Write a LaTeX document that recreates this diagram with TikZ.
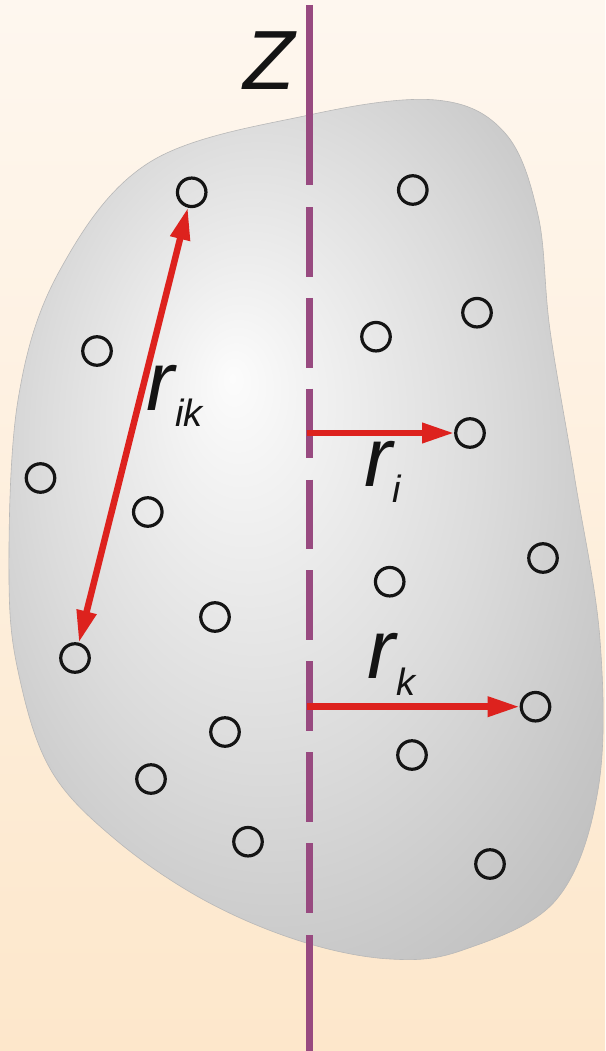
\documentclass[tikz,border=0pt]{standalone}
\usepackage{fontspec}
\setmainfont{Liberation Sans}
\usetikzlibrary{arrows.meta}
\definecolor{axiscol}{HTML}{984A80}
\definecolor{arrcol}{HTML}{DD221E}
\definecolor{bgtop}{HTML}{FEF7EF}
\definecolor{bgbot}{HTML}{FDE7CB}
\definecolor{gA}{HTML}{FCFCFC}
\definecolor{gB}{HTML}{F3F3F3}
\definecolor{gC}{HTML}{DBDBDB}
\definecolor{gD}{HTML}{C6C6C6}
\definecolor{gE}{HTML}{ACACAC}
\pgfdeclareradialshading{blobshade}{\pgfpoint{-6.3bp}{8.75bp}}{color(0bp)=(gA); color(5bp)=(gB); color(19bp)=(gC); color(30bp)=(gD); color(45bp)=(gE)}
\tikzset{
  particle/.style={circle, draw=black!92, line width=3.2pt, minimum size=28.5pt, inner sep=0pt},
  axisline/.style={draw=axiscol, line width=7pt},
  vecarrow/.style={draw=arrcol, line width=6.5pt},
  bigtip/.tip={Triangle[length=32pt, width=19pt]},
  bigfont/.style={inner sep=0pt, anchor=base, text=black!92, font=\fontsize{84}{84}\selectfont\itshape},
  subfont/.style={inner sep=0pt, anchor=base, text=black!92, font=\fontsize{38}{38}\selectfont\itshape}
}
\begin{document}
\begin{tikzpicture}[x=1pt, y=-1pt]
\useasboundingbox (0,0) rectangle (605,1051);
\shade[top color=bgtop, bottom color=bgbot] (0,0) rectangle (605,1051);
% body
\shade[shading=blobshade, draw=black!28, line width=0.6pt] plot[smooth cycle, tension=0.6] coordinates {
 (309,115) (436,100) (505,133) (538,215) (550,330) (575,480) (600,640) (598,790)
 (556,900) (463,950) (390,959) (300,941) (204,900) (116,840) (52,772) (20,680)
 (9,580) (18,400) (60,270) (150,162)};
% axis
\coordinate (ztop) at (309.5,5);
\coordinate (zs1) at (309.5,185);
\coordinate (zd0) at (309.5,207);
\coordinate (zd1) at (309.5,913);
\coordinate (zb0) at (309.5,935);
\coordinate (zbot) at (309.5,1051);
\draw[axisline] (ztop) -- (zs1);
\draw[axisline, dash pattern=on 69.7pt off 21.16pt] (zd0) -- (zd1);
\draw[axisline] (zb0) -- (zbot);
\node[bigfont] (zlab) at (269,90) {Z};
% particles
\node[particle] (c1) at (191.7,192.3) {};
\node[particle] (c2) at (412.8,190) {};
\node[particle] (c3) at (477,312.7) {};
\node[particle] (c4) at (376,336.7) {};
\node[particle] (c5) at (97,351) {};
\node[particle] (c6) at (40.5,478) {};
\node[particle] (c7) at (147.8,512) {};
\node[particle] (c8) at (470,433) {};
\node[particle] (c9) at (543,558) {};
\node[particle] (c10) at (389.7,581.7) {};
\node[particle] (c11) at (215,617) {};
\node[particle] (c12) at (75,658) {};
\node[particle] (c13) at (535.5,706.7) {};
\node[particle] (c14) at (225,732) {};
\node[particle] (c15) at (412,755) {};
\node[particle] (c16) at (151,779) {};
\node[particle] (c17) at (248,841.7) {};
\node[particle] (c18) at (490,864) {};
% vectors
\coordinate (ai) at (306.5,433);
\coordinate (ak) at (306.5,706.7);
\draw[vecarrow, {bigtip}-{bigtip}] (c12) -- (c1);
\draw[vecarrow, -{bigtip}] (ai) -- (c8);
\draw[vecarrow, -{bigtip}] (ak) -- (c13);
% labels
\node[bigfont] (rik) at (160,410) {r};
\node[subfont] (rikS) at (189,426.7) {ik};
\node[bigfont] (ri) at (378,486.5) {r};
\node[subfont] (riS) at (397,502.5) {i};
\node[bigfont] (rk) at (381,678) {r};
\node[subfont] (rkS) at (406,695) {k};
\end{tikzpicture}
\end{document}
